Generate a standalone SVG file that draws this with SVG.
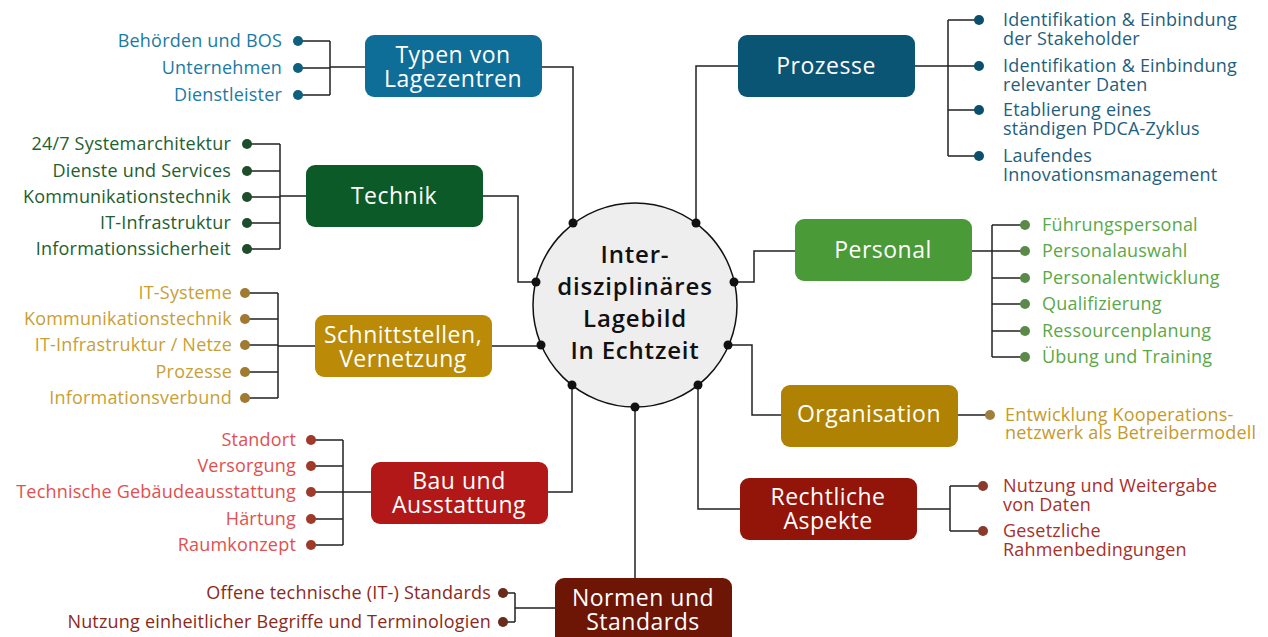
<svg xmlns="http://www.w3.org/2000/svg" width="1268" height="637" viewBox="0 0 1268 637">
<style>
.item{font-family:"Open Sans","Liberation Sans",sans-serif;font-size:18px;letter-spacing:0.2px}
.end{text-anchor:end}
.lbl{font-family:"Open Sans","Liberation Sans",sans-serif;font-size:23px;letter-spacing:0.5px;fill:#fff;text-anchor:middle}
.ctr{font-family:"Open Sans","Liberation Sans",sans-serif;font-size:24px;letter-spacing:0.8px;font-weight:600;fill:#111;text-anchor:middle}
.ln{fill:none;stroke:#222;stroke-width:1.5}
</style>
<rect width="1268" height="637" fill="#fff"/>
<g id="connectors" class="ln">
<path d="M542,67H573V223M365,67H330M330,41V95M298,41H330M298,68H330M298,95H330"/>
<path d="M738,66H696V223M915,66H948M948,20V156M948,20H979M948,66H979M948,110H979M948,156H979"/>
<path d="M483,196H518V282H536M306,196H280M280,144V249M247,144H280M247,171H280M247,197H280M247,223H280M247,249H280"/>
<path d="M492,346H541M315,346H278M278,293V398M245,293H278M245,319H278M245,345H278M245,372H278M245,398H278"/>
<path d="M548,492H572V385M371,492H343M343,440V545M311,440H343M311,466H343M311,492H343M311,519H343M311,545H343"/>
<path d="M635,578V407M555,608H515M515,593V622M503,593H515M503,622H515"/>
<path d="M734,282H754V251H795M972,251H992M992,225V357M992,225H1025M992,251H1025M992,278H1025M992,304H1025M992,331H1025M992,357H1025"/>
<path d="M728,345H752V415H781M958,415H990"/>
<path d="M698,385V509H740M917,509H950M950,486V531M950,486H983M950,531H983"/>
</g>
<g id="center">
<circle cx="635" cy="305" r="102" fill="#eeeeee" stroke="#111" stroke-width="1.5"/>
<g fill="#111">
<circle cx="573" cy="223" r="4.5"/><circle cx="696" cy="223" r="4.5"/>
<circle cx="536" cy="282" r="4.5"/><circle cx="734" cy="282" r="4.5"/>
<circle cx="541" cy="345" r="4.5"/><circle cx="728" cy="345" r="4.5"/>
<circle cx="572" cy="385" r="4.5"/><circle cx="698" cy="385" r="4.5"/>
<circle cx="635" cy="407" r="4.5"/>
</g>
<text class="ctr" x="635" y="263">Inter-</text>
<text class="ctr" x="635" y="295">disziplinäres</text>
<text class="ctr" x="635" y="327">Lagebild</text>
<text class="ctr" x="635" y="359">In Echtzeit</text>
</g>
<g id="typen">
<rect x="365" y="35" width="177" height="62" rx="9" fill="#0f6e98"/>
<text class="lbl" x="453" y="63">Typen von</text>
<text class="lbl" x="453" y="87">Lagezentren</text>
<g fill="#0f5f7f"><circle cx="298" cy="41" r="5"/><circle cx="298" cy="68" r="5"/><circle cx="298" cy="95" r="5"/></g>
<g class="item end" fill="#1b7aa3">
<text x="282" y="47">Behörden und BOS</text>
<text x="282" y="74">Unternehmen</text>
<text x="282" y="101">Dienstleister</text>
</g>
</g>
<g id="prozesse">
<rect x="738" y="35" width="177" height="62" rx="9" fill="#0a5474"/>
<text class="lbl" x="826" y="74">Prozesse</text>
<g fill="#0a4f6c"><circle cx="979" cy="20" r="5"/><circle cx="979" cy="66" r="5"/><circle cx="979" cy="110" r="5"/><circle cx="979" cy="156" r="5"/></g>
<g class="item" fill="#1f5f7d">
<text x="1003" y="26">Identifikation &amp; Einbindung<tspan x="1003" dy="19">der Stakeholder</tspan></text>
<text x="1003" y="72">Identifikation &amp; Einbindung<tspan x="1003" dy="19">relevanter Daten</tspan></text>
<text x="1003" y="116">Etablierung eines<tspan x="1003" dy="19">ständigen PDCA-Zyklus</tspan></text>
<text x="1003" y="162">Laufendes<tspan x="1003" dy="19">Innovationsmanagement</tspan></text>
</g>
</g>
<g id="technik">
<rect x="306" y="165" width="177" height="62" rx="9" fill="#0b5a27"/>
<text class="lbl" x="394" y="204">Technik</text>
<g fill="#1e4d2a"><circle cx="247" cy="144" r="5"/><circle cx="247" cy="171" r="5"/><circle cx="247" cy="197" r="5"/><circle cx="247" cy="223" r="5"/><circle cx="247" cy="249" r="5"/></g>
<g class="item end" fill="#23602f">
<text x="231" y="150">24/7 Systemarchitektur</text>
<text x="231" y="177">Dienste und Services</text>
<text x="231" y="203">Kommunikationstechnik</text>
<text x="231" y="229">IT-Infrastruktur</text>
<text x="231" y="255">Informationssicherheit</text>
</g>
</g>
<g id="schnittstellen">
<rect x="315" y="315" width="177" height="62" rx="9" fill="#bb8a06"/>
<text class="lbl" x="403" y="343">Schnittstellen,</text>
<text class="lbl" x="403" y="367">Vernetzung</text>
<g fill="#a07a30"><circle cx="245" cy="293" r="5"/><circle cx="245" cy="319" r="5"/><circle cx="245" cy="345" r="5"/><circle cx="245" cy="372" r="5"/><circle cx="245" cy="398" r="5"/></g>
<g class="item end" fill="#c8a035">
<text x="232" y="299">IT-Systeme</text>
<text x="232" y="325">Kommunikationstechnik</text>
<text x="232" y="351">IT-Infrastruktur / Netze</text>
<text x="232" y="378">Prozesse</text>
<text x="232" y="404">Informationsverbund</text>
</g>
</g>
<g id="bau">
<rect x="371" y="462" width="177" height="62" rx="9" fill="#b31818"/>
<text class="lbl" x="459" y="489">Bau und</text>
<text class="lbl" x="459" y="513">Ausstattung</text>
<g fill="#a03a28"><circle cx="311" cy="440" r="5"/><circle cx="311" cy="466" r="5"/><circle cx="311" cy="492" r="5"/><circle cx="311" cy="519" r="5"/><circle cx="311" cy="545" r="5"/></g>
<g class="item end" fill="#e24f4f">
<text x="296" y="446">Standort</text>
<text x="296" y="472">Versorgung</text>
<text x="296" y="498">Technische Gebäudeausstattung</text>
<text x="296" y="525">Härtung</text>
<text x="296" y="551">Raumkonzept</text>
</g>
</g>
<g id="normen">
<rect x="555" y="578" width="177" height="70" rx="9" fill="#6d1606"/>
<text class="lbl" x="643" y="606">Normen und</text>
<text class="lbl" x="643" y="630">Standards</text>
<g fill="#6a2a1c"><circle cx="503" cy="593" r="5"/><circle cx="503" cy="622" r="5"/></g>
<g class="item end" fill="#8a2a1c">
<text x="491" y="599">Offene technische (IT-) Standards</text>
<text x="491" y="628">Nutzung einheitlicher Begriffe und Terminologien</text>
</g>
</g>
<g id="personal">
<rect x="795" y="219" width="177" height="62" rx="9" fill="#4a9a38"/>
<text class="lbl" x="883" y="258">Personal</text>
<g fill="#5a8a4a"><circle cx="1025" cy="225" r="5"/><circle cx="1025" cy="251" r="5"/><circle cx="1025" cy="278" r="5"/><circle cx="1025" cy="304" r="5"/><circle cx="1025" cy="331" r="5"/><circle cx="1025" cy="357" r="5"/></g>
<g class="item" fill="#5aa848">
<text x="1042" y="231">Führungspersonal</text>
<text x="1042" y="257">Personalauswahl</text>
<text x="1042" y="284">Personalentwicklung</text>
<text x="1042" y="310">Qualifizierung</text>
<text x="1042" y="337">Ressourcenplanung</text>
<text x="1042" y="363">Übung und Training</text>
</g>
</g>
<g id="organisation">
<rect x="781" y="385" width="177" height="62" rx="9" fill="#b08203"/>
<text class="lbl" x="869" y="422">Organisation</text>
<circle cx="990" cy="415" r="5" fill="#a08040"/>
<g class="item" fill="#c69a2a">
<text x="1005" y="421">Entwicklung Kooperations-<tspan x="1005" dy="18">netzwerk als Betreibermodell</tspan></text>
</g>
</g>
<g id="rechtliche">
<rect x="740" y="478" width="177" height="62" rx="9" fill="#931509"/>
<text class="lbl" x="828" y="505">Rechtliche</text>
<text class="lbl" x="828" y="529">Aspekte</text>
<g fill="#8a3a2a"><circle cx="983" cy="486" r="5"/><circle cx="983" cy="531" r="5"/></g>
<g class="item" fill="#a8302a">
<text x="1003" y="492">Nutzung und Weitergabe<tspan x="1003" dy="19">von Daten</tspan></text>
<text x="1003" y="537">Gesetzliche<tspan x="1003" dy="19">Rahmenbedingungen</tspan></text>
</g>
</g>
</svg>
